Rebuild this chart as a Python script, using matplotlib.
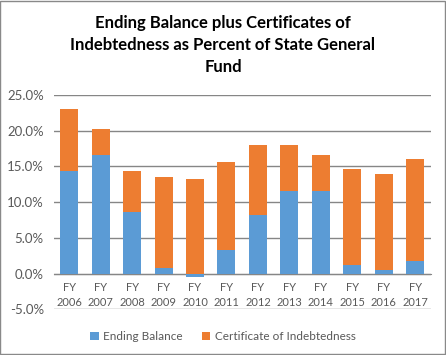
import matplotlib
matplotlib.use("Agg")
import matplotlib.pyplot as plt
from matplotlib.patches import Rectangle
import numpy as np

years = ["2006", "2007", "2008", "2009", "2010", "2011",
         "2012", "2013", "2014", "2015", "2016", "2017"]
ending_balance = [14.3, 16.6, 8.6, 0.75, -0.55, 3.3, 8.2, 11.5, 11.5, 1.15, 0.55, 1.7]
certificates = [8.8, 3.65, 5.8, 12.8, 13.2, 12.3, 9.8, 6.5, 5.1, 13.5, 13.4, 14.35]

blue = "#5B9BD5"
orange = "#ED7D31"
text_col = "#595959"
grid_col = "#868686"

plt.rcParams["font.family"] = ["Lato", "DejaVu Sans"]

fig = plt.figure(figsize=(4.46, 3.55), dpi=100)
ax = fig.add_axes([0.120, 0.129, 0.846, 0.603])

x = np.arange(len(years))
# positive parts stack from zero, negative balance hangs below
bottoms = [max(v, 0) for v in ending_balance]
ax.bar(x, ending_balance, width=0.57, color=blue, label="Ending Balance", zorder=3)
ax.bar(x, certificates, width=0.57, bottom=bottoms, color=orange,
       label="Certificate of Indebtedness", zorder=3)

ax.set_xlim(-0.5, len(years) - 0.5)
ax.set_ylim(-5, 25)
ax.set_yticks(np.arange(-5, 26, 5))
ax.set_yticklabels([f"{v:.1f}%" for v in np.arange(-5, 26, 5)])
ax.yaxis.grid(True, color=grid_col, linewidth=1)
ax.set_axisbelow(True)

# move the category axis to the zero line first (this resets the ticks)
ax.spines["bottom"].set_position(("data", 0))
ax.spines["bottom"].set_color(grid_col)
for s in ["top", "right", "left"]:
    ax.spines[s].set_visible(False)

ax.set_xticks(x)
ax.set_xticklabels([f"FY\n{y}" for y in years], linespacing=1.45)
ax.tick_params(axis="x", length=0, pad=6, labelsize=8, labelcolor=text_col)
ax.tick_params(axis="y", length=0, pad=7, labelsize=9.5, labelcolor=text_col)

fig.suptitle("Ending Balance plus Certificates of\nIndebtedness as Percent of State General\nFund",
             x=0.5, y=0.957, fontsize=12, fontweight="bold", color="black",
             linespacing=1.45)

fig.legend(loc="center", bbox_to_anchor=(0.5, 0.052), ncol=2, frameon=False,
           fontsize=8.5, labelcolor=text_col, handlelength=0.7, handleheight=0.7,
           columnspacing=1.6, handletextpad=0.4)

fig.patches.append(Rectangle((0.001, 0.002), 0.996, 0.995, transform=fig.transFigure,
                             fill=False, edgecolor="#898989", linewidth=1))

fig.savefig("out.png", dpi=100)
